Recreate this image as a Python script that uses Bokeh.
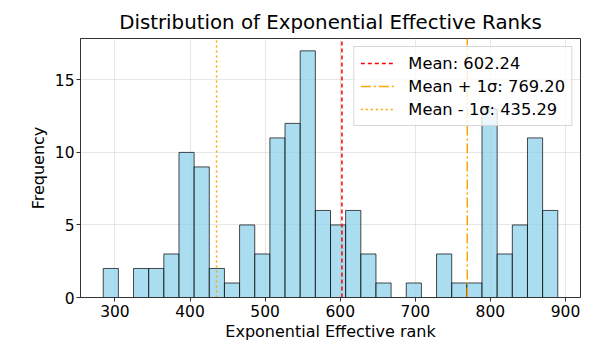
import numpy as np
from bokeh.plotting import figure
from bokeh.models import Legend, LegendItem, Range1d, FixedTicker
from bokeh.embed import file_html
from bokeh.resources import INLINE

# ---- data ----
title_text = "Distribution of Exponential Effective Ranks"
bin_min = 284.4
bin_max = 889.7
counts = [2, 0, 2, 2, 3, 10, 9, 2, 1, 5,
          3, 11, 12, 17, 6, 5, 6, 3, 1, 0,
          1, 0, 3, 1, 1, 13, 3, 5, 11, 6]
mean_val = 602.24
plus_sigma = 769.20
minus_sigma = 435.29
x_ticks = [300, 400, 500, 600, 700, 800, 900]
y_ticks = [0, 5, 10, 15]

edges = np.linspace(bin_min, bin_max, len(counts) + 1)
span = bin_max - bin_min
x_lo, x_hi = bin_min - 0.05 * span, bin_max + 0.05 * span
y_hi = max(counts) * 1.05

FONT = "DejaVu Sans"

p = figure(width=582, height=343, output_backend="svg", toolbar_location=None,
           x_range=Range1d(x_lo, x_hi), y_range=Range1d(0, y_hi),
           min_border_left=80, min_border_right=2, min_border_top=38, min_border_bottom=45,
           title=title_text)

p.title.text_font = FONT
p.title.text_font_size = "19.8px"
p.title.text_font_style = "normal"
p.title.align = "center"
p.title.text_color = "black"
p.title.padding = 5
p.title.standoff = 0

p.quad(left=edges[:-1], right=edges[1:], top=counts, bottom=0,
       fill_color="skyblue", fill_alpha=0.7, line_color="black", line_alpha=0.7, line_width=1)

r_mean = p.line(x=[mean_val, mean_val], y=[0, y_hi], line_color="red", line_width=1.5, line_dash="4 3")
r_plus = p.line(x=[plus_sigma, plus_sigma], y=[0, y_hi], line_color="orange", line_width=1.5, line_dash="10 3 2 3")
r_minus = p.line(x=[minus_sigma, minus_sigma], y=[0, y_hi], line_color="orange", line_width=1.5, line_dash="2 3")

legend = Legend(items=[
    LegendItem(label="Mean: %.2f" % mean_val, renderers=[r_mean]),
    LegendItem(label="Mean + 1σ: %.2f" % plus_sigma, renderers=[r_plus]),
    LegendItem(label="Mean - 1σ: %.2f" % minus_sigma, renderers=[r_minus]),
], location="top_right")
legend.label_text_font = FONT
legend.label_text_font_size = "16.3px"
legend.label_text_color = "black"
legend.label_height = 20
legend.glyph_height = 20
legend.glyph_width = 34
legend.label_standoff = 14
legend.spacing = 3
legend.padding = 6
legend.margin = 8
legend.border_line_color = "#cccccc"
legend.border_line_alpha = 0.8
legend.background_fill_alpha = 0.8
p.add_layout(legend)

p.xaxis.axis_label = "Exponential Effective rank"
p.yaxis.axis_label = "Frequency"
for ax in (p.xaxis, p.yaxis):
    ax.axis_label_text_font = FONT
    ax.axis_label_text_font_size = "16px"
    ax.axis_label_text_font_style = "normal"
    ax.major_label_text_font = FONT
    ax.major_label_text_font_size = "15.5px"
    ax.major_tick_out = 4
    ax.major_tick_in = 0
    ax.minor_tick_line_color = None
    ax.axis_line_color = "#333333"
    ax.major_tick_line_color = "#333333"
    ax.major_label_text_color = "black"
    ax.axis_label_text_color = "black"
p.xaxis.major_label_standoff = 3
p.xaxis.axis_label_standoff = 2
p.yaxis.major_label_standoff = 2
p.yaxis.axis_label_standoff = 4
p.xaxis.ticker = FixedTicker(ticks=x_ticks)
p.yaxis.ticker = FixedTicker(ticks=y_ticks)

p.xgrid.ticker = FixedTicker(ticks=x_ticks)
p.ygrid.ticker = FixedTicker(ticks=y_ticks)
p.grid.grid_line_color = "#b0b0b0"
p.grid.grid_line_alpha = 0.3
p.outline_line_color = "#333333"
p.outline_line_alpha = 1

open("out.html", "w").write(file_html(p, INLINE))
